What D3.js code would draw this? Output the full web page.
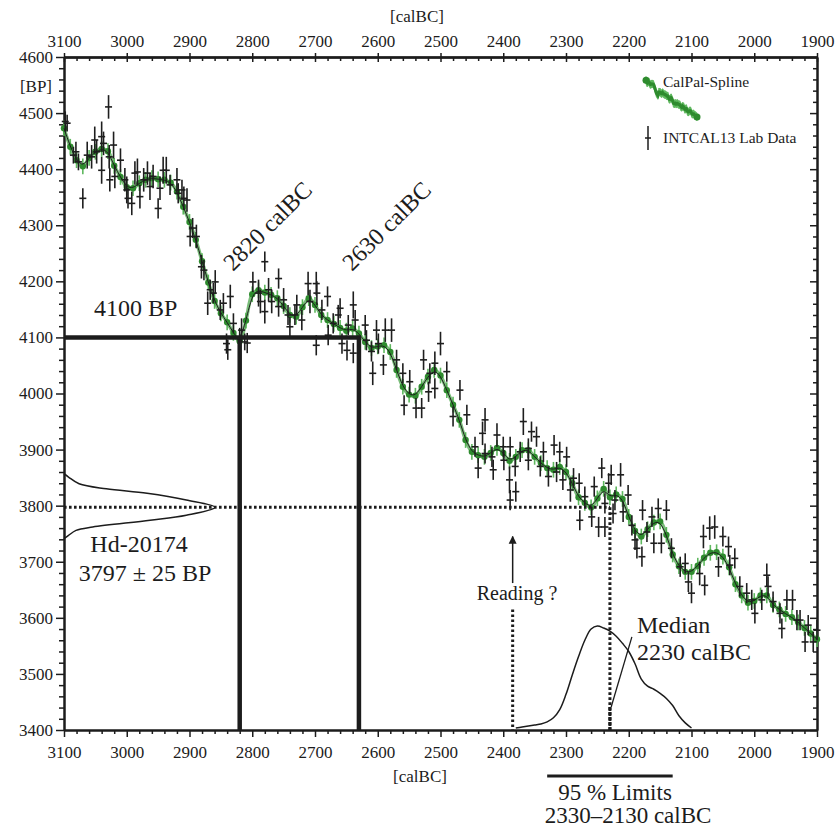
<!DOCTYPE html>
<html><head><meta charset="utf-8">
<script src="https://cdn.jsdelivr.net/npm/d3@7"></script>
<style>
html,body{margin:0;padding:0;background:#fff;}
svg, svg text{font-family:"Liberation Serif","Times New Roman","DejaVu Serif",serif;}
</style></head><body>
<svg id="chart" width="835" height="829"></svg>
<script>
// ---------- data ----------
const xTickLabels = [3100,3000,2900,2800,2700,2600,2500,2400,2300,2200,2100,2000,1900];
const yTickLabels = [3400,3500,3600,3700,3800,3900,4000,4100,4200,4300,4400,4500,4600];

// CalPal spline (calBC every 10 years from 3100 to 1900), BP
const splineYears = d3.range(3100, 1899, -10);
const splineBP = [
  4473,4440,4416,4405,4420,4431,4436,4432,4406,4386,
  4368,4366,4375,4381,4384,4382,4381,4376,4360,4333,
  4306,4274,4236,4198,4165,4143,4127,4108,4093,4130,
  4177,4184,4180,4176,4170,4156,4140,4137,4154,4170,
  4158,4140,4131,4124,4117,4112,4116,4107,4092,4081,
  4084,4086,4074,4042,4012,3998,3996,4012,4030,4042,
  4032,4006,3980,3953,3917,3896,3890,3887,3894,3903,
  3894,3880,3887,3899,3899,3887,3876,3867,3864,3869,
  3860,3840,3815,3805,3797,3813,3830,3815,3820,3812,
  3780,3755,3745,3758,3770,3772,3748,3713,3692,3682,
  3682,3693,3707,3716,3717,3709,3690,3660,3640,3627,
  3630,3640,3640,3623,3615,3607,3601,3592,3582,3572,
  3562];
const splineErr = 14;

// INTCAL13 lab data: [calBC, BP, error]
const labData = [
[3098,4485,18],[3095,4482,15],[3085,4425,15],[3081,4431,18],[3077,4413,15],[3070,4348,18],[3063,4425,24],[3056,4422,21],[3051,4452,24],[3048,4431,21],
[3040,4458,27],[3040,4398,24],[3037,4446,21],[3029,4511,21],[3028,4422,21],[3027,4381,21],[3021,4443,24],[3019,4387,21],[3010,4416,21],[3003,4381,21],
[3000,4363,24],[2998,4348,18],[2992,4339,21],[2987,4393,21],[2983,4395,24],[2979,4351,21],[2973,4381,21],[2967,4393,21],[2963,4369,24],[2958,4387,21],
[2950,4330,18],[2947,4366,21],[2942,4398,24],[2937,4398,24],[2931,4372,18],[2920,4381,21],[2918,4357,18],[2912,4363,18],[2909,4348,21],[2904,4345,21],
[2899,4280,18],[2895,4295,18],[2889,4280,21],[2881,4226,21],[2877,4220,18],[2871,4161,21],[2867,4185,18],[2862,4179,18],[2859,4199,21],[2851,4149,18],
[2846,4161,18],[2841,4089,18],[2839,4078,18],[2835,4173,21],[2830,4125,18],[2820,4099,18],[2817,4113,21],[2812,4092,15],[2808,4090,18],[2799,4199,18],
[2790,4179,24],[2787,4164,21],[2780,4235,18],[2780,4146,21],[2774,4185,21],[2769,4164,21],[2758,4205,18],[2758,4155,18],[2750,4167,21],[2743,4140,18],
[2740,4119,18],[2732,4140,18],[2729,4158,18],[2721,4131,18],[2711,4196,21],[2708,4164,21],[2698,4196,21],[2698,4086,18],[2697,4179,21],[2689,4149,18],
[2680,4173,18],[2679,4104,18],[2671,4125,18],[2663,4140,18],[2660,4152,18],[2657,4089,18],[2649,4077,18],[2647,4122,18],[2639,4158,24],[2639,4072,18],
[2636,4131,18],[2620,4122,18],[2618,4095,18],[2610,4075,18],[2608,4036,21],[2602,4113,18],[2599,4089,18],[2591,4051,18],[2588,4113,21],[2578,4113,21],
[2570,4060,18],[2560,4036,18],[2558,3979,18],[2549,4021,21],[2539,3974,18],[2530,3974,18],[2527,4060,18],[2519,4003,18],[2517,4036,18],[2509,4054,21],
[2509,4009,18],[2500,4089,21],[2490,4039,18],[2480,3959,18],[2469,4006,18],[2458,3962,18],[2445,3905,18],[2440,3867,18],[2433,3929,21],[2429,3953,21],
[2429,3893,18],[2418,3887,18],[2416,3864,18],[2410,3926,21],[2400,3905,18],[2399,3881,18],[2390,3846,24],[2389,3810,18],[2389,3905,18],[2381,3870,18],
[2380,3825,18],[2373,3896,18],[2368,3950,24],[2360,3902,18],[2360,3881,18],[2355,3932,18],[2347,3923,18],[2341,3870,18],[2336,3896,18],[2328,3852,18],
[2319,3908,18],[2315,3860,18],[2310,3896,18],[2305,3846,18],[2299,3887,18],[2293,3828,21],[2288,3849,18],[2279,3840,18],[2278,3774,18],[2270,3816,18],
[2259,3780,18],[2255,3834,18],[2248,3762,18],[2243,3867,18],[2238,3762,18],[2238,3804,18],[2232,3840,18],[2228,3855,18],[2225,3786,18],[2222,3810,18],
[2213,3855,21],[2209,3789,18],[2201,3819,18],[2195,3765,18],[2190,3739,18],[2187,3724,18],[2179,3709,18],[2178,3792,18],[2171,3753,18],[2163,3780,18],
[2160,3733,18],[2153,3795,18],[2148,3733,18],[2140,3792,18],[2132,3724,18],[2118,3691,18],[2110,3697,18],[2105,3664,18],[2100,3644,18],[2087,3679,21],
[2081,3745,21],[2079,3658,18],[2071,3760,21],[2063,3762,21],[2057,3691,18],[2050,3745,18],[2041,3727,18],[2039,3694,18],[2031,3706,18],[2023,3656,18],
[2012,3644,18],[2004,3632,18],[1999,3608,18],[1988,3632,18],[1980,3676,21],[1978,3656,18],[1970,3629,18],[1959,3608,18],[1956,3581,18],[1948,3632,18],
[1939,3632,18],[1932,3596,18],[1927,3596,18],[1919,3557,18],[1914,3587,18],[1906,3557,18],[1900,3578,18]
];

// Measured date Hd-20174 (BP), relative probability
const gaussBP = [3741,3747,3756,3762,3774,3783,3797,3810,3822,3830,3839,3851,3857];
const gaussP  = [0,0.03,0.08,0.19,0.57,0.81,1,0.81,0.55,0.28,0.10,0.03,0];

// Calibrated probability (calBC), relative %
const calYears = d3.range(2380, 2099, -10);
const calProb = [0,1,2,3,4,6,10,18,33,52,70,86,97,100,98,95,90,83,75,63,48,41,38,34,29,22,12,5,0];

// annotation values
const ageBP = 4100, interceptA = 2820, interceptB = 2630;
const measBP = 3797, medianBC = 2230, readingBC = 2385;
const limitFrom = 2330, limitTo = 2130;

// ---------- chart ----------
const FONT = '"Liberation Serif","Times New Roman","DejaVu Serif",serif';
const svg = d3.select("#chart").attr("font-family", FONT);
const x = d3.scaleLinear([3100, 1900], [64, 817]);
const y = d3.scaleLinear([3400, 4600], [730, 57]);
const ink = "#1c1c1c";
const minorX = d3.range(1900, 3101, 20).filter(v => v % 100 !== 0);
const minorY = d3.range(3400, 4601, 20).filter(v => v % 100 !== 0);

function styleAxis(g, showText) {
  g.attr("font-family", FONT);
  g.select(".domain").attr("stroke", ink).attr("stroke-width", 2);
  g.selectAll(".tick line").attr("stroke", ink).attr("stroke-width", 1.5);
  g.selectAll(".tick text").attr("fill", ink).attr("font-size", 17)
    .attr("font-family", FONT);
  if (!showText) g.selectAll(".tick text").remove();
}
// bottom
svg.append("g").attr("transform", `translate(0,${y(3400)})`)
  .call(d3.axisBottom(x).tickValues(minorX).tickSize(4).tickSizeOuter(0)).call(g => styleAxis(g, false));
svg.append("g").attr("transform", `translate(0,${y(3400)})`)
  .call(d3.axisBottom(x).tickValues(xTickLabels).tickSize(7).tickSizeOuter(0).tickPadding(9).tickFormat(d3.format("d")))
  .call(g => styleAxis(g, true));
// top
svg.append("g").attr("transform", `translate(0,${y(4600)})`)
  .call(d3.axisTop(x).tickValues(minorX).tickSize(-4).tickSizeOuter(0)).call(g => styleAxis(g, false));
svg.append("g").attr("transform", `translate(0,${y(4600)})`)
  .call(d3.axisTop(x).tickValues(xTickLabels).tickSize(-5).tickSizeOuter(0).tickPadding(10).tickFormat(d3.format("d")))
  .call(g => styleAxis(g, true));
svg.append("g").attr("transform", `translate(0,${y(4600)})`)
  .call(d3.axisTop(x).tickValues(xTickLabels).tickSize(4).tickSizeOuter(0)).call(g => styleAxis(g, false));
// left
svg.append("g").attr("transform", `translate(${x(3100)},0)`)
  .call(d3.axisLeft(y).tickValues(minorY).tickSize(5).tickSizeOuter(0)).call(g => styleAxis(g, false));
svg.append("g").attr("transform", `translate(${x(3100)},0)`)
  .call(d3.axisLeft(y).tickValues(yTickLabels).tickSize(8).tickSizeOuter(0).tickPadding(3).tickFormat(d3.format("d")))
  .call(g => styleAxis(g, true));
// right
svg.append("g").attr("transform", `translate(${x(1900)},0)`)
  .call(d3.axisRight(y).tickValues(minorY).tickSize(-4).tickSizeOuter(0)).call(g => styleAxis(g, false));
svg.append("g").attr("transform", `translate(${x(1900)},0)`)
  .call(d3.axisRight(y).tickValues(yTickLabels).tickSize(-7).tickSizeOuter(0)).call(g => styleAxis(g, false));

// axis titles
const txt = (t, px, py, size, anchor) => svg.append("text").text(t)
  .attr("x", px).attr("y", py).attr("font-size", size).attr("fill", ink)
  .attr("font-family", FONT)
  .attr("text-anchor", anchor || "start");
txt("[calBC]", 417, 22, 17, "middle");
txt("[BP]", 52, 92, 17, "end");
txt("[calBC]", 420, 782, 17, "middle");

// ---------- spline ----------
const spline = splineYears.map((yr, i) => ({yr, bp: splineBP[i]}));
const gSpl = svg.append("g");
gSpl.selectAll("line.err").data(spline).join("line").attr("class", "err")
  .attr("x1", d => x(d.yr)).attr("x2", d => x(d.yr))
  .attr("y1", d => y(d.bp - splineErr)).attr("y2", d => y(d.bp + splineErr))
  .attr("stroke", "#5fb85f").attr("stroke-width", 1.6);
gSpl.append("path").datum(spline)
  .attr("d", d3.line().x(d => x(d.yr)).y(d => y(d.bp)).curve(d3.curveCatmullRom))
  .attr("fill", "none").attr("stroke", "#3f9f3f").attr("stroke-width", 3.5).attr("opacity", 0.7);
gSpl.selectAll("circle").data(spline).join("circle")
  .attr("cx", d => x(d.yr)).attr("cy", d => y(d.bp)).attr("r", 3.2)
  .attr("fill", "#2e8b2e");
gSpl.append("path").datum(spline)
  .attr("d", d3.line().x(d => x(d.yr)).y(d => y(d.bp)).curve(d3.curveBasis))
  .attr("fill", "none").attr("stroke", ink).attr("stroke-width", 1);

// ---------- lab data ----------
const gLab = svg.append("g").attr("stroke", "#1e1e1e").attr("stroke-width", 1.6);
gLab.selectAll("line.v").data(labData).join("line").attr("class", "v")
  .attr("x1", d => x(d[0])).attr("x2", d => x(d[0]))
  .attr("y1", d => y(d[1] - d[2])).attr("y2", d => y(d[1] + d[2]));
gLab.selectAll("line.h").data(labData).join("line").attr("class", "h")
  .attr("x1", d => x(d[0]) - 3.5).attr("x2", d => x(d[0]) + 3.5)
  .attr("y1", d => y(d[1])).attr("y2", d => y(d[1]));

// ---------- guide lines ----------
const thick = {stroke: ink, "stroke-width": 4.5};
function line(x1, y1, x2, y2, attrs) {
  const l = svg.append("line").attr("x1", x1).attr("y1", y1).attr("x2", x2).attr("y2", y2);
  Object.entries(attrs).forEach(([k, v]) => l.attr(k, v));
  return l;
}
line(x(3100), y(ageBP), x(interceptB) + 2, y(ageBP), thick);
line(x(interceptA), y(ageBP), x(interceptA), y(3400), thick);
line(x(interceptB), y(ageBP), x(interceptB), y(3400), thick);

const dotted = {stroke: ink, "stroke-width": 3, "stroke-dasharray": "2.6,2.4"};
line(x(3100), y(measBP), x(medianBC), y(measBP), dotted);
line(x(medianBC), y(measBP), x(medianBC), y(3400), dotted);
line(x(readingBC), y(3615), x(readingBC), y(3400), dotted);

// arrow "Reading ?"
svg.append("defs").append("marker").attr("id", "arr").attr("viewBox", "0 0 10 10")
  .attr("refX", 9).attr("refY", 5).attr("markerWidth", 8).attr("markerHeight", 11)
  .attr("orient", "auto").attr("markerUnits", "userSpaceOnUse")
  .append("path").attr("d", "M0,0 L10,5 L0,10 z").attr("fill", ink);
line(x(readingBC), y(3662), x(readingBC), y(3745), {stroke: ink, "stroke-width": 1.5, "marker-end": "url(#arr)"});

// ---------- measured date curve ----------
const gx = d3.scaleLinear([0, 1], [x(3100), x(3100) + 151]);
svg.append("path").datum(gaussBP.map((b, i) => [b, gaussP[i]]))
  .attr("d", d3.line().x(d => gx(d[1])).y(d => y(d[0])).curve(d3.curveCatmullRom))
  .attr("fill", "none").attr("stroke", ink).attr("stroke-width", 1.5);

// ---------- calibrated distribution ----------
const py = d3.scaleLinear([0, 100], [y(3400) - 2, y(3400) - 104]);
svg.append("path").datum(calYears.map((c, i) => [c, calProb[i]]))
  .attr("d", d3.line().x(d => x(d[0])).y(d => py(d[1])).curve(d3.curveCatmullRom))
  .attr("fill", "none").attr("stroke", ink).attr("stroke-width", 1.5);

// median leader
line(x(2195), y(3566), x(2228), y(3441), {stroke: ink, "stroke-width": 1.3});
line(x(medianBC), y(3441), x(medianBC), y(3400), {stroke: ink, "stroke-width": 3, "stroke-dasharray": "4,1"});

// 95% limits bar
line(x(limitFrom), y(3400) + 46, x(limitTo), y(3400) + 46, {stroke: ink, "stroke-width": 3});

// ---------- texts ----------
txt("4100 BP", 94, 316, 24);
svg.append("text").text("2820 calBC").attr("transform", "translate(233,272) rotate(-45)")
  .attr("font-size", 24).attr("fill", ink).attr("font-family", FONT);
svg.append("text").text("2630 calBC").attr("transform", "translate(352,272) rotate(-45)")
  .attr("font-size", 24).attr("fill", ink).attr("font-family", FONT);
txt("Hd-20174", 139, 552, 24, "middle");
txt("3797 \u00b1 25 BP", 145, 581, 24, "middle");
txt("Reading ?", 517, 600, 20, "middle");
txt("Median", 637, 633, 24);
txt("2230 calBC", 637, 660, 24);
txt("95 % Limits", 615, 800, 23, "middle");
txt("2330\u20132130 calBC", 628, 823, 23, "middle");

// ---------- legend ----------
const lx = d3.scaleLinear([3100, 1900], [646, 697]);
const ly = d3.scaleLinear([4480, 3560], [80, 117]);
const gLeg = svg.append("g");
gLeg.selectAll("line").data(spline).join("line")
  .attr("x1", d => lx(d.yr)).attr("x2", d => lx(d.yr))
  .attr("y1", d => ly(d.bp) - 4).attr("y2", d => ly(d.bp) + 4)
  .attr("stroke", "#5fb85f").attr("stroke-width", 1);
gLeg.append("path").datum(spline)
  .attr("d", d3.line().x(d => lx(d.yr)).y(d => ly(d.bp)))
  .attr("fill", "none").attr("stroke", "#2e8b2e").attr("stroke-width", 3);
gLeg.selectAll("circle").data([spline[0], spline[spline.length - 1]]).join("circle")
  .attr("cx", d => lx(d.yr)).attr("cy", d => ly(d.bp)).attr("r", 3.5).attr("fill", "#2e8b2e");
txt("CalPal-Spline", 663, 87, 15.5);
line(648, 126, 648, 150, {stroke: ink, "stroke-width": 1.5});
line(645, 138, 651, 138, {stroke: ink, "stroke-width": 1.5});
txt("INTCAL13 Lab Data", 663, 143, 15.5);
</script>
</body></html>
